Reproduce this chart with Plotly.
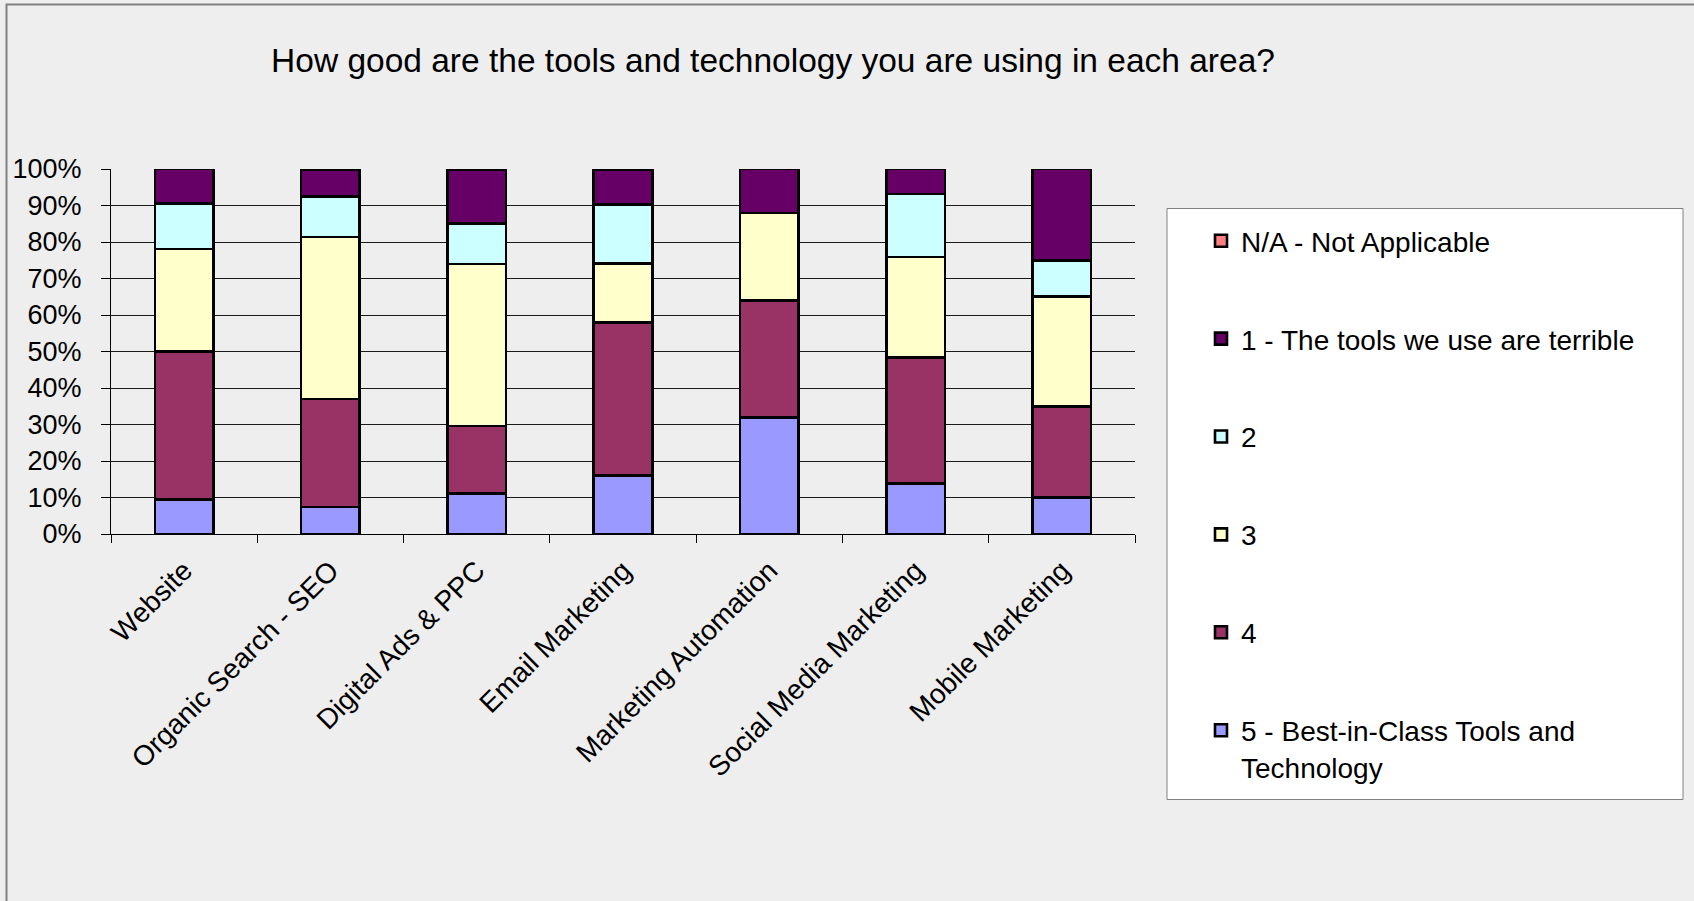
import plotly.graph_objects as go

# Survey areas and share of answers (%) for each rating
categories = [
    "Website",
    "Organic Search - SEO",
    "Digital Ads & PPC",
    "Email Marketing",
    "Marketing Automation",
    "Social Media Marketing",
    "Mobile Marketing",
]
rating_5 = [9.4, 7.4, 11.1, 16.1, 32.0, 13.8, 10.0]
rating_4 = [40.6, 29.6, 18.5, 41.9, 32.0, 34.5, 25.0]
rating_3 = [28.1, 44.4, 44.4, 16.1, 24.0, 27.6, 30.0]
rating_2 = [12.5, 11.1, 11.1, 16.1, 0.0, 17.2, 10.0]
rating_1 = [9.4, 7.4, 14.8, 9.7, 12.0, 6.9, 25.0]
not_applicable = [0, 0, 0, 0, 0, 0, 0]

# stacked bottom to top; legend lists them top to bottom
series = [
    ("5 - Best-in-Class Tools and<br>Technology", rating_5, "#9999FF"),
    ("4", rating_4, "#993366"),
    ("3", rating_3, "#FFFFCC"),
    ("2", rating_2, "#CCFFFF"),
    ("1 - The tools we use are terrible", rating_1, "#660066"),
    ("N/A - Not Applicable", not_applicable, "#FF8080"),
]

FONT = "Liberation Sans, Arial, sans-serif"
W, H = 1694, 901
L, R, T, B = 111, 1135, 169, 534  # plot area in pixels

fig = go.Figure()
n = len(series)
for i, (name, vals, color) in enumerate(series):
    fig.add_trace(go.Bar(
        x=categories, y=vals, name=name, legendgroup=f"g{i}",
        legendrank=n - i,
        marker=dict(color=color, line=dict(color="#000000", width=2.6)),
        width=0.4,
    ))

def px_x(p):
    return (p - L) / (R - L)

def px_y(p):
    return (B - p) / (B - T)

shapes = [
    # outer chart frame (top and left edges visible)
    dict(type="rect", xref="paper", yref="paper",
         x0=px_x(6.5), x1=px_x(W + 20), y0=px_y(H + 20), y1=px_y(4.5),
         line=dict(color="#808080", width=2), fillcolor="rgba(0,0,0,0)", layer="below"),
    # legend frame
    dict(type="rect", xref="paper", yref="paper",
         x0=px_x(1167), x1=px_x(1683), y0=px_y(799.5), y1=px_y(208.5),
         line=dict(color="#808080", width=1), fillcolor="#FFFFFF", layer="below"),
]

fig.update_layout(
    width=W, height=H,
    margin=dict(l=L, r=W - R, t=T, b=H - B, pad=0),
    paper_bgcolor="#EEEEEE", plot_bgcolor="#EEEEEE",
    barmode="stack",
    font=dict(family=FONT, size=27, color="#000000"),
    title=dict(
        text="How good are the tools and technology you are using in each area?",
        font=dict(family=FONT, size=33.5, color="#000000"),
        xref="container", yref="container",
        x=773 / W, xanchor="center", y=1 - 60.5 / H, yanchor="middle",
    ),
    showlegend=True,
    legend=dict(
        x=px_x(1201), xanchor="left", y=px_y(216), yanchor="top",
        bgcolor="rgba(0,0,0,0)", borderwidth=0,
        traceorder="grouped", tracegroupgap=58.5, maxheight=800,
        font=dict(family=FONT, size=28, color="#000000"),
        valign="top",
    ),
    shapes=shapes,
    bargap=0.6,
)

fig.update_xaxes(
    type="category", showline=True, linecolor="#000000", linewidth=1,
    ticks="outside", ticklen=8, tickcolor="#000000", tickwidth=1,
    tickson="boundaries", tickangle=-45, showgrid=False,
    tickfont=dict(family=FONT, size=28), ticklabelstandoff=8,
)
fig.update_yaxes(
    range=[0, 100], dtick=10, ticksuffix="%",
    showline=True, linecolor="#000000", linewidth=1,
    ticks="outside", ticklen=9, tickcolor="#000000", tickwidth=1,
    showgrid=True, gridcolor="#1a1a1a", gridwidth=1, zeroline=False,
    tickfont=dict(family=FONT, size=27), ticklabelstandoff=14,
)

fig.write_html("out.html")
